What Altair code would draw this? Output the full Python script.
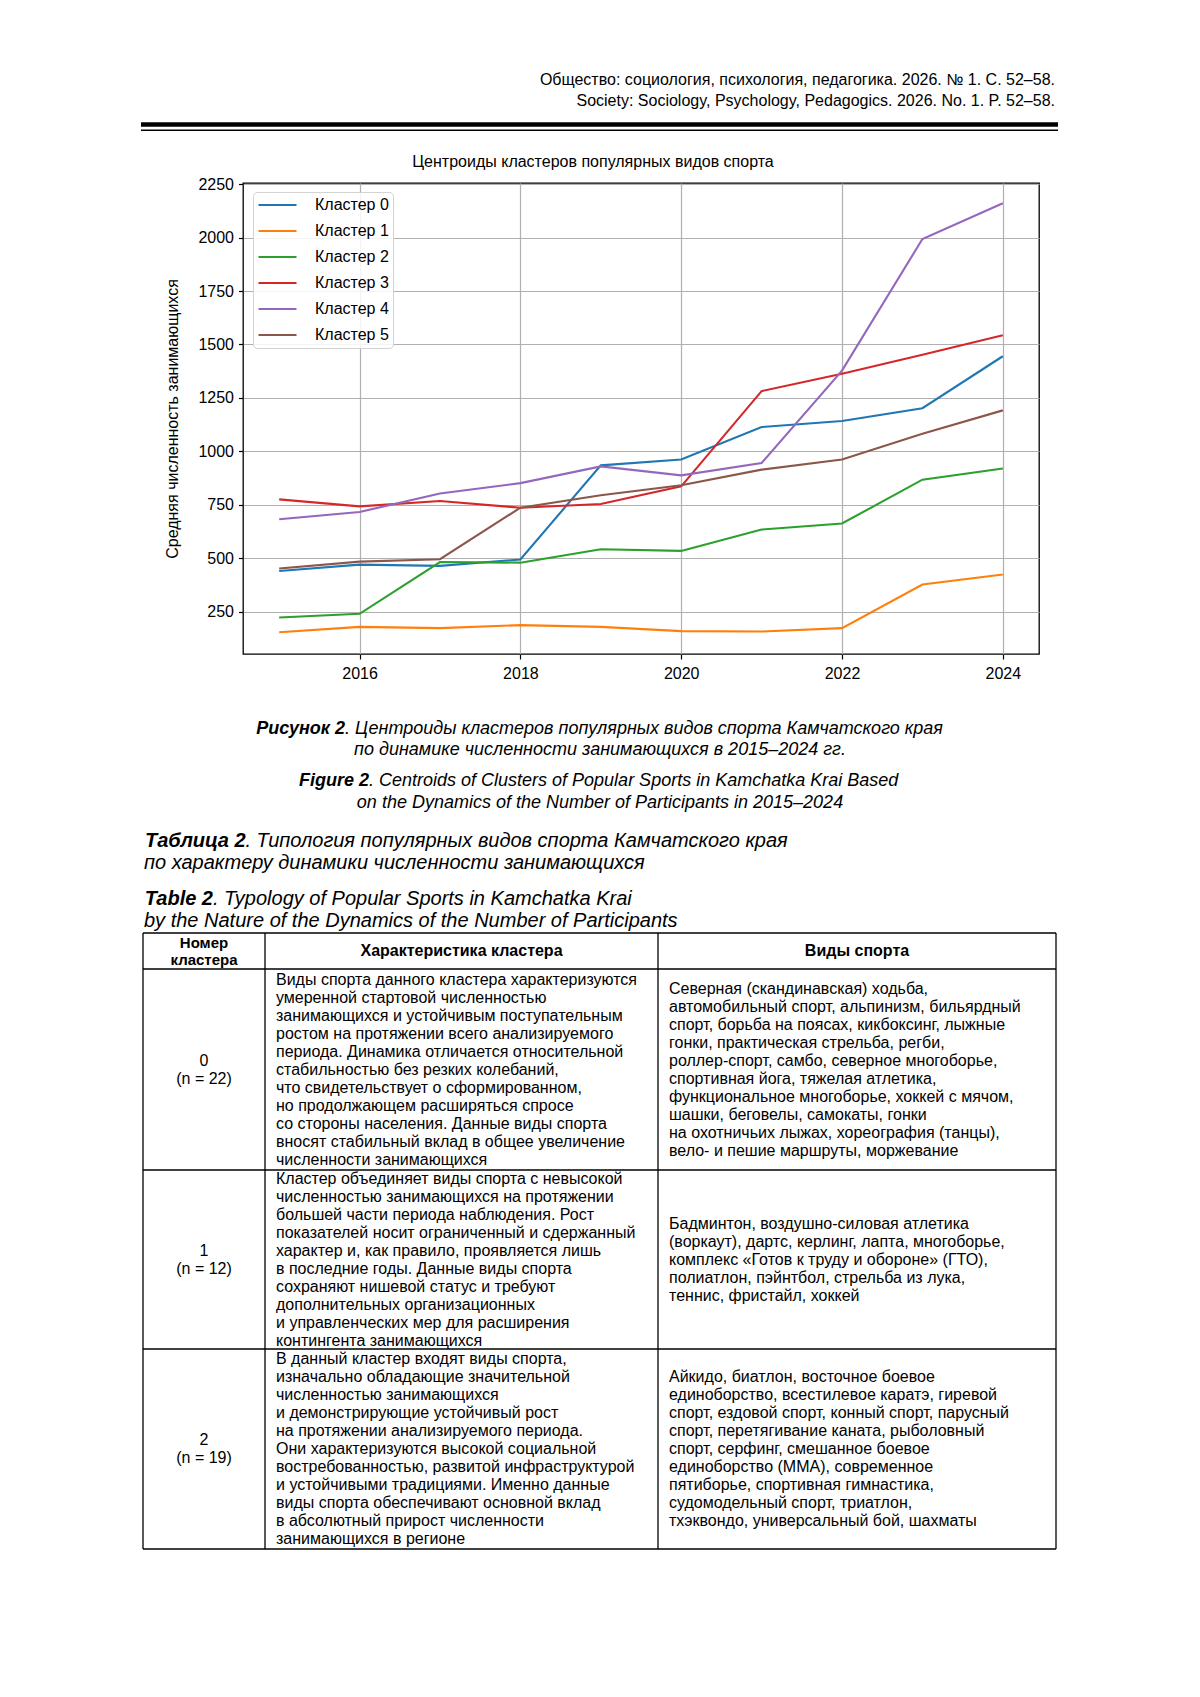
import altair as alt
import pandas as pd

# ---------------- data ----------------
years = [2015, 2016, 2017, 2018, 2019, 2020, 2021, 2022, 2023, 2024]
cluster_names = ["Кластер 0", "Кластер 1", "Кластер 2", "Кластер 3", "Кластер 4", "Кластер 5"]
cluster0 = [441, 471, 465, 495, 935, 962, 1114, 1142, 1202, 1445]
cluster1 = [155, 180, 174, 188, 180, 160, 158, 174, 378, 425]
cluster2 = [224, 241, 483, 480, 543, 535, 635, 663, 868, 920]
cluster3 = [776, 743, 768, 737, 754, 837, 1282, 1363, 1452, 1543]
cluster4 = [683, 717, 803, 852, 930, 888, 946, 1378, 1993, 2160]
cluster5 = [453, 485, 496, 737, 795, 842, 915, 962, 1083, 1192]
colors = ["#1f77b4", "#ff7f0e", "#2ca02c", "#d62728", "#9467bd", "#8c564b"]
x_ticks = [2016, 2018, 2020, 2022, 2024]
y_ticks = [250, 500, 750, 1000, 1250, 1500, 1750, 2000, 2250]

chart_title = "Центроиды кластеров популярных видов спорта"
y_title = "Средняя численность занимающихся"

header_ru = "Общество: социология, психология, педагогика. 2026. № 1. С. 52–58."
header_en = "Society: Sociology, Psychology, Pedagogics. 2026. No. 1. P. 52–58."

fig_ru_bold = "Рисунок 2"
fig_ru_1 = ". Центроиды кластеров популярных видов спорта Камчатского края"
fig_ru_2 = "по динамике численности занимающихся в 2015–2024 гг."
fig_en_bold = "Figure 2"
fig_en_1 = ". Centroids of Clusters of Popular Sports in Kamchatka Krai Based"
fig_en_2 = "on the Dynamics of the Number of Participants in 2015–2024"
tab_ru_bold = "Таблица 2"
tab_ru_1 = ". Типология популярных видов спорта Камчатского края"
tab_ru_2 = "по характеру динамики численности занимающихся"
tab_en_bold = "Table 2"
tab_en_1 = ". Typology of Popular Sports in Kamchatka Krai"
tab_en_2 = "by the Nature of the Dynamics of the Number of Participants"

table_head = ["Номер\nкластера", "Характеристика кластера", "Виды спорта"]
table_num = ["0\n(n = 22)", "1\n(n = 12)", "2\n(n = 19)"]
table_desc = [
    "Виды спорта данного кластера характеризуются\nумеренной стартовой численностью\n"
    "занимающихся и устойчивым поступательным\nростом на протяжении всего анализируемого\n"
    "периода. Динамика отличается относительной\nстабильностью без резких колебаний,\n"
    "что свидетельствует о сформированном,\nно продолжающем расширяться спросе\n"
    "со стороны населения. Данные виды спорта\nвносят стабильный вклад в общее увеличение\n"
    "численности занимающихся",
    "Кластер объединяет виды спорта с невысокой\nчисленностью занимающихся на протяжении\n"
    "большей части периода наблюдения. Рост\nпоказателей носит ограниченный и сдержанный\n"
    "характер и, как правило, проявляется лишь\nв последние годы. Данные виды спорта\n"
    "сохраняют нишевой статус и требуют\nдополнительных организационных\n"
    "и управленческих мер для расширения\nконтингента занимающихся",
    "В данный кластер входят виды спорта,\nизначально обладающие значительной\n"
    "численностью занимающихся\nи демонстрирующие устойчивый рост\n"
    "на протяжении анализируемого периода.\nОни характеризуются высокой социальной\n"
    "востребованностью, развитой инфраструктурой\nи устойчивыми традициями. Именно данные\n"
    "виды спорта обеспечивают основной вклад\nв абсолютный прирост численности\n"
    "занимающихся в регионе",
]
table_sports = [
    "Северная (скандинавская) ходьба,\nавтомобильный спорт, альпинизм, бильярдный\n"
    "спорт, борьба на поясах, кикбоксинг, лыжные\nгонки, практическая стрельба, регби,\n"
    "роллер-спорт, самбо, северное многоборье,\nспортивная йога, тяжелая атлетика,\n"
    "функциональное многоборье, хоккей с мячом,\nшашки, беговелы, самокаты, гонки\n"
    "на охотничьих лыжах, хореография (танцы),\nвело- и пешие маршруты, моржевание",
    "Бадминтон, воздушно-силовая атлетика\n(воркаут), дартс, керлинг, лапта, многоборье,\n"
    "комплекс «Готов к труду и обороне» (ГТО),\nполиатлон, пэйнтбол, стрельба из лука,\n"
    "теннис, фристайл, хоккей",
    "Айкидо, биатлон, восточное боевое\nединоборство, всестилевое каратэ, гиревой\n"
    "спорт, ездовой спорт, конный спорт, парусный\nспорт, перетягивание каната, рыболовный\n"
    "спорт, серфинг, смешанное боевое\nединоборство (ММА), современное\n"
    "пятиборье, спортивная гимнастика,\nсудомодельный спорт, триатлон,\n"
    "тхэквондо, универсальный бой, шахматы",
]

# ---------------- layout (page pixels) ----------------
FONT = "Liberation Sans"
OX, OY = 243, 183          # plot-area origin on the page
W, H = 796, 471            # plot area size
TOTAL_W, TOTAL_H = 1184, 1660

rows = []
for name, vals in zip(cluster_names, [cluster0, cluster1, cluster2, cluster3, cluster4, cluster5]):
    for yr, v in zip(years, vals):
        rows.append({"year": yr, "value": v, "cluster": name})
df = pd.DataFrame(rows)

lines = alt.Chart(df).mark_line(strokeWidth=2.1).encode(
    x=alt.X("year:Q",
            scale=alt.Scale(domain=[2014.55, 2024.45], nice=False, zero=False),
            axis=alt.Axis(values=x_ticks, format="d", title=None, grid=True,
                          labelPadding=6, tickSize=5)),
    y=alt.Y("value:Q",
            scale=alt.Scale(domain=[53, 2255], nice=False, zero=False),
            axis=alt.Axis(values=y_ticks, format="d", title=y_title, grid=True,
                          titlePadding=17, titleFontSize=16, titleFontWeight="normal",
                          titleFont=FONT, titleColor="black", labelPadding=5, tickSize=4.5)),
    color=alt.Color("cluster:N",
                    scale=alt.Scale(domain=cluster_names, range=colors),
                    legend=alt.Legend(title=None, orient="none", legendX=10, legendY=9,
                                      symbolType="stroke", symbolSize=1444,
                                      symbolStrokeWidth=2.2, labelFontSize=16,
                                      labelFont=FONT, labelColor="black", labelOffset=17,
                                      clipHeight=18, padding=4, rowPadding=8,
                                      strokeColor="#d3d3d3", cornerRadius=4,
                                      fillColor="rgba(255,255,255,0.85)")),
)


def one():
    return alt.Data(values=[{"k": 1}])


def txt(s, x, y, size, align="left", weight="normal", style="normal", lh=18):
    # y is the vertical centre of the whole text block
    n = s.count("\n") + 1
    y_first = y - (n - 1) * lh / 2
    return alt.Chart(alt.Data(values=[{"t": s}])).mark_text(
        align=align, baseline="middle", fontSize=size, fontWeight=weight,
        fontStyle=style, font=FONT, color="black", lineBreak="\n", lineHeight=lh
    ).encode(x=alt.value(x - OX), y=alt.value(y_first - OY), text="t:N")


def hrule(x1, x2, y, w=1.2):
    return alt.Chart(one()).mark_rule(strokeWidth=w, color="black").encode(
        x=alt.value(x1 - OX), x2=alt.value(x2 - OX), y=alt.value(y - OY))


def vrule(x, y1, y2, w=1.2):
    return alt.Chart(one()).mark_rule(strokeWidth=w, color="black").encode(
        x=alt.value(x - OX), y=alt.value(y1 - OY), y2=alt.value(y2 - OY))


layers = [lines]

# header
layers += [
    txt(header_ru, 1055, 80, 16, align="right"),
    txt(header_en, 1055, 100.5, 16, align="right"),
    hrule(141, 1058, 124.5, 4.5),
    hrule(141, 1058, 130.2, 1.4),
]

# chart title
layers.append(txt(chart_title, 593, 162, 16, align="center"))

# figure captions
layers += [
    txt(fig_ru_bold, 345, 729, 18, align="right", weight="bold", style="italic"),
    txt(fig_ru_1, 345, 729, 18, align="left", style="italic"),
    txt(fig_ru_2, 600, 750, 18, align="center", style="italic"),
    txt(fig_en_bold, 369, 781, 18, align="right", weight="bold", style="italic"),
    txt(fig_en_1, 369, 781, 18, align="left", style="italic"),
    txt(fig_en_2, 600, 803, 18, align="center", style="italic"),
]

# table titles
layers += [
    txt(tab_ru_bold, 245.5, 841, 20, align="right", weight="bold", style="italic"),
    txt(tab_ru_1, 245.5, 841, 20, align="left", style="italic"),
    txt(tab_ru_2, 144, 863, 20, align="left", style="italic"),
    txt(tab_en_bold, 213, 899, 20, align="right", weight="bold", style="italic"),
    txt(tab_en_1, 213, 899, 20, align="left", style="italic"),
    txt(tab_en_2, 144, 921, 20, align="left", style="italic"),
]

# table grid
col_x = [143, 265, 658, 1056]
row_y = [933, 969, 1170, 1349, 1549]
for yy in row_y:
    layers.append(hrule(col_x[0], col_x[-1], yy, 1.3))
for xx in col_x:
    layers.append(vrule(xx, row_y[0], row_y[-1], 1.3))

# table header
hc = (row_y[0] + row_y[1]) / 2
layers += [
    txt(table_head[0], (col_x[0] + col_x[1]) / 2, hc, 15, align="center", weight="bold", lh=17),
    txt(table_head[1], (col_x[1] + col_x[2]) / 2, hc, 16, align="center", weight="bold"),
    txt(table_head[2], (col_x[2] + col_x[3]) / 2, hc, 16, align="center", weight="bold"),
]

# table body
for i in range(3):
    cy = (row_y[i + 1] + row_y[i + 2]) / 2
    layers += [
        txt(table_num[i], (col_x[0] + col_x[1]) / 2, cy, 16, align="center", lh=18),
        txt(table_desc[i], 276, cy, 16, align="left", lh=18),
        txt(table_sports[i], 669, cy, 16, align="left", lh=18),
    ]

chart = alt.layer(*layers).properties(
    width=W, height=H,
    padding={"left": OX - 8, "top": OY - 8,
             "right": TOTAL_W - (OX - 8) - W, "bottom": TOTAL_H - (OY - 8) - H},
    autosize=alt.AutoSizeParams(type="none"),
    background="white",
).configure_view(
    stroke="black", strokeWidth=1.3
).configure_axis(
    domain=False, tickColor="black", tickWidth=1.2,
    labelFont=FONT, labelFontSize=16, labelColor="black",
    gridColor="#b0b0b0", gridWidth=1.2, gridOpacity=1,
)

chart.save("out.html", embed_options={"renderer": "svg", "actions": False})
